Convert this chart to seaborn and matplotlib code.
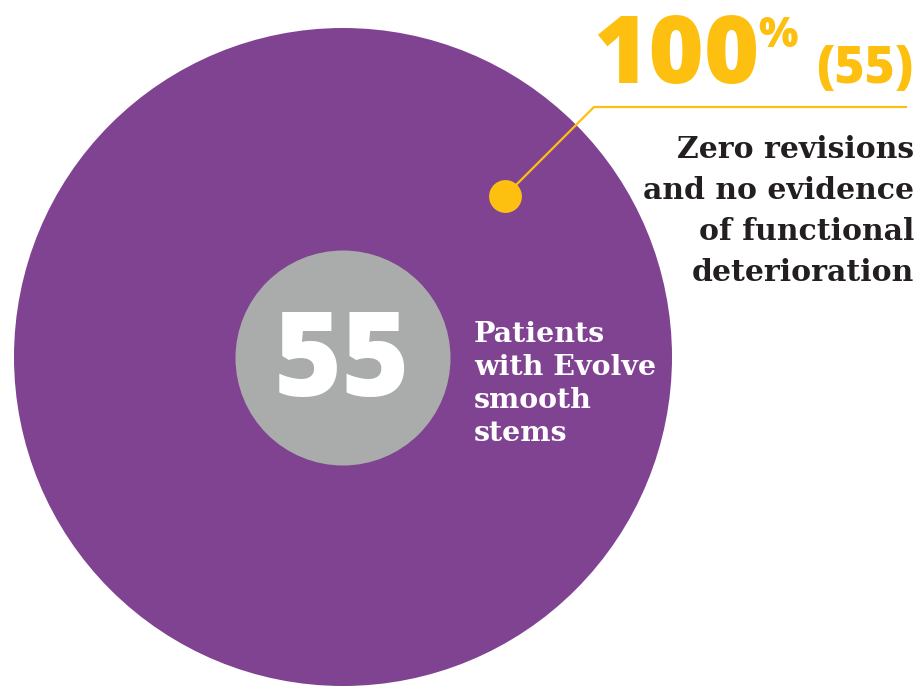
import matplotlib
matplotlib.use("Agg")
import matplotlib.pyplot as plt
import matplotlib.patches as mpatches
import seaborn as sns

# data
patients = 55
pct_no_revision = 100
centre_label = ["Patients", "with Evolve", "smooth", "stems"]
callout_label = ["Zero revisions", "and no evidence", "of functional", "deterioration"]

purple = "#7f4391"
grey = "#a9acab"
yellow = "#fdc010"
dark = "#231f20"

sns.set_theme(style="white")
plt.rcParams['font.family'] = ['DejaVu Sans']

fig = plt.figure(figsize=(9.2, 6.86), dpi=100)
ax = fig.add_axes([0, 0, 1, 1])
ax.set_xlim(0, 920)
ax.set_ylim(686, 0)
ax.set_aspect('equal')
ax.axis('off')

num_font = dict(family=['Open Sans', 'DejaVu Sans'], fontweight=800, fontstyle='normal')
serif_font = dict(family=['DejaVu Serif'], fontweight='bold', fontstyle='normal')

# outer bubble = all patients, inner bubble = count label
cx, cy = 343, 357
ax.add_patch(mpatches.Circle((cx, cy), 329, color=purple, lw=0))
ax.add_patch(mpatches.Circle((cx, cy + 1), 107.5, color=grey, lw=0))

ax.text(cx - 1, cy + 39, str(patients), color='white', fontsize=84,
        ha='center', va='baseline', **num_font)

for i, line in enumerate(centre_label):
    ax.text(474, 342 + i * 33, line, color='white', fontsize=20.5,
            ha='left', va='baseline', **serif_font)

# callout
ax.plot([505, 594, 907], [196, 107, 107], color=yellow, lw=1.6, solid_capstyle='butt')
ax.scatter([505], [196], s=560, color=yellow, lw=0, zorder=3)

ax.text(593, 83, str(pct_no_revision), color=yellow, fontsize=68,
        ha='left', va='baseline', **num_font)
ax.text(758, 47, "%", color=yellow, fontsize=30,
        ha='left', va='baseline', **num_font)
ax.text(913, 83, f"({patients})", color=yellow, fontsize=37,
        ha='right', va='baseline', **num_font)

for i, line in enumerate(callout_label):
    ax.text(914, 158 + i * 41, line, color=dark, fontsize=21.5,
            ha='right', va='baseline', **serif_font)

fig.savefig('out.png', dpi=100)
